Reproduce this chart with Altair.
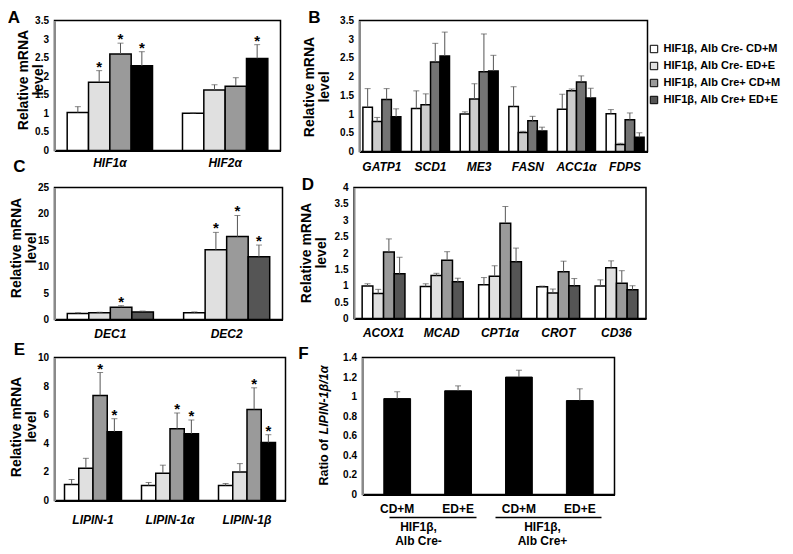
import altair as alt
import pandas as pd

FONT = "Liberation Sans"

series = ["HIF1β, Alb Cre- CD+M", "HIF1β, Alb Cre- ED+E",
          "HIF1β, Alb Cre+ CD+M", "HIF1β, Alb Cre+ ED+E"]

# Panel A
A_genes = ["HIF1α", "HIF2α"]
A_vals = [[1.02, 1.84, 2.60, 2.28], [1.00, 1.63, 1.73, 2.48]]
A_errs = [[0.16, 0.31, 0.29, 0.38], [0.01, 0.14, 0.23, 0.37]]
A_star = [[0, 1, 1, 1], [0, 0, 0, 1]]
A_ticks = [0, 0.5, 1, 1.5, 2, 2.5, 3, 3.5]

# Panel B
B_genes = ["GATP1", "SCD1", "ME3", "FASN", "ACC1α", "FDPS"]
B_vals = [[1.18, 0.80, 1.39, 0.93], [1.15, 1.25, 2.39, 2.55], [1.00, 1.40, 2.13, 2.15],
          [1.20, 0.51, 0.82, 0.55], [1.13, 1.62, 1.86, 1.43], [1.01, 0.19, 0.85, 0.38]]
B_errs = [[0.50, 0.11, 0.29, 0.21], [0.47, 0.29, 0.50, 0.64], [0.06, 0.41, 1.01, 0.42],
          [0.53, 0.03, 0.12, 0.10], [0.40, 0.05, 0.16, 0.26], [0.11, 0.03, 0.18, 0.12]]
B_star = [[0, 0, 0, 0]] * 6
B_ticks = [0, 0.5, 1, 1.5, 2, 2.5, 3, 3.5]

# Panel C
C_genes = ["DEC1", "DEC2"]
C_vals = [[1.13, 1.26, 2.32, 1.44], [1.26, 13.2, 15.7, 11.9]]
C_errs = [[0.15, 0.12, 0.30, 0.16], [0.18, 3.3, 4.0, 2.2]]
C_star = [[0, 0, 1, 0], [0, 1, 1, 1]]
C_ticks = [0, 5, 10, 15, 20, 25]

# Panel D
D_genes = ["ACOX1", "MCAD", "CPT1α", "CROT", "CD36"]
D_vals = [[0.99, 0.76, 2.03, 1.37], [0.98, 1.31, 1.78, 1.12], [1.03, 1.29, 2.91, 1.73],
          [0.97, 0.78, 1.43, 1.00], [0.99, 1.55, 1.08, 0.88]]
D_errs = [[0.07, 0.13, 0.40, 0.50], [0.08, 0.07, 0.26, 0.11], [0.22, 0.32, 0.51, 0.42],
          [0.02, 0.12, 0.32, 0.22], [0.19, 0.21, 0.38, 0.12]]
D_star = [[0, 0, 0, 0]] * 5
D_ticks = [0, 0.5, 1, 1.5, 2, 2.5, 3, 3.5, 4]

# Panel E
E_genes = ["LIPIN-1", "LIPIN-1α", "LIPIN-1β"]
E_vals = [[1.12, 2.26, 7.35, 4.81], [1.05, 1.91, 5.02, 4.67], [1.05, 2.00, 6.37, 4.05]]
E_errs = [[0.35, 0.69, 1.60, 0.91], [0.21, 0.56, 1.10, 0.96], [0.14, 0.58, 1.51, 0.55]]
E_star = [[0, 0, 1, 1], [0, 0, 1, 1], [0, 0, 1, 1]]
E_ticks = [0, 2, 4, 6, 8, 10]

# Panel F
F_labels = ["CD+M", "ED+E", "CD+M", "ED+E"]
F_vals = [0.98, 1.06, 1.20, 0.96]
F_errs = [0.07, 0.05, 0.07, 0.12]
F_groups = ["HIF1β,\nAlb Cre-", "HIF1β,\nAlb Cre+"]
F_ticks = [0, 0.2, 0.4, 0.6, 0.8, 1, 1.2, 1.4]

letters = ["A", "B", "C", "D", "E", "F"]

COL_A = ["#ffffff", "#e0e0e0", "#9a9a9a", "#000000"]
COL_B = ["#ffffff", "#cccccc", "#747474", "#000000"]
COL_C = ["#ffffff", "#e0e0e0", "#9a9a9a", "#555555"]
COL_LEGEND = ["#ffffff", "#e0e0e0", "#9a9a9a", "#555555"]

NUM_LABEL = "'' + datum.value"


def make_df(genes, vals, errs, stars, colors):
    rows = []
    for gi, g in enumerate(genes):
        for si, s in enumerate(series):
            rows.append(dict(gene=g, series=s, v=vals[gi][si],
                             top=vals[gi][si] + errs[gi][si],
                             star=stars[gi][si], col=colors[si]))
    return pd.DataFrame(rows)


def letter_mark(letter, lx, ly):
    return alt.Chart(pd.DataFrame({"t": [letter]})).mark_text(
        font=FONT, fontSize=17, fontWeight="bold", align="center", baseline="middle"
    ).encode(text="t:N", x=alt.value(lx), y=alt.value(ly))


def panel(genes, vals, errs, stars, colors, ticks, w, h, pin, pout,
          title_x, title_y, label_pad, extra=(), legend=None):
    df = make_df(genes, vals, errs, stars, colors)
    base = alt.Chart(df)
    xs = alt.X("gene:N", sort=genes,
               scale=alt.Scale(paddingInner=pin, paddingOuter=pout),
               axis=alt.Axis(title=None, labelAngle=0, labelFontStyle="italic",
                             labelFontSize=12, labelPadding=label_pad, ticks=False,
                             domainColor="black", domainWidth=2))
    xo = alt.XOffset("series:N", sort=series,
                     scale=alt.Scale(paddingInner=0, paddingOuter=0))
    yaxis = alt.Axis(values=ticks, labelExpr=NUM_LABEL, grid=False, ticks=False,
                     labelOverlap=False, labelFlush=False,
                     labelPadding=6, domainColor="#8a8a8a", domainWidth=2,
                     title=["Relative mRNA", "level"], titleX=title_x,
                     titleY=title_y, titleAngle=270, titleAlign="center",
                     titleBaseline="middle", titleLineHeight=15)
    yscale = alt.Scale(domain=[ticks[0], ticks[-1]], nice=False)

    def Y(field):
        return alt.Y(field, type="quantitative", scale=yscale, axis=yaxis)

    bars = base.mark_bar(stroke="black", strokeWidth=1.5).encode(
        x=xs, xOffset=xo, y=Y("v"), fill=alt.Fill("col:N", scale=None))
    err = base.mark_rule(color="#555555", strokeWidth=1).encode(
        x=xs, xOffset=xo, y=Y("v"), y2="top:Q")
    cap = base.mark_tick(color="#555555", thickness=1, size=6).encode(
        x=xs, xOffset=xo, y=Y("top"))
    star = base.transform_filter("datum.star == 1").mark_text(
        text="*", font=FONT, fontSize=15, fontWeight="bold", baseline="alphabetic", dy=1
    ).encode(x=xs, xOffset=xo, y=Y("top"))
    layers = [bars, err, cap, star]
    if legend is not None:
        layers.append(base.mark_square(size=0, opacity=0).encode(
            x=xs, xOffset=xo, y=Y("v"),
            fill=alt.Fill("series:N", sort=series,
                          scale=alt.Scale(domain=series, range=COL_LEGEND), legend=legend)))
    layers.extend(extra)
    return alt.layer(*layers).properties(width=w, height=h)


legend = alt.Legend(orient="none", legendX=594, legendY=23, title=None, symbolType="square",
                    symbolSize=55, symbolStrokeColor="black", symbolStrokeWidth=1,
                    symbolOpacity=1, labelFont=FONT, labelFontSize=11, labelFontWeight="bold",
                    labelColor="black", rowPadding=4, labelLimit=0, padding=0)

# invisible layout anchor fixing the top-left corner of the figure
anchor = alt.Chart(pd.DataFrame({"a": [0]})).mark_point(
    size=1, opacity=0, shape="square", filled=True
).encode(x=alt.value(-52), y=alt.value(-16))

pA = panel(A_genes, A_vals, A_errs, A_star, COL_A, A_ticks, 226, 130, 0.26, 0.11,
           -31, 59, 7, extra=[anchor, letter_mark(letters[0], -40.5, -2.5),
                              letter_mark(letters[2], -35, 146)])
pB = panel(B_genes, B_vals, B_errs, B_star, COL_B, B_ticks, 288, 131, 0.22, 0.07,
           -50, 66, 10, extra=[letter_mark(letters[1], -45, -2.5)], legend=legend)
pC = panel(C_genes, C_vals, C_errs, C_star, COL_C, C_ticks, 228, 132, 0.26, 0.11,
           -38, 60, 9)
pD = panel(D_genes, D_vals, D_errs, D_star, COL_C, D_ticks, 292, 131, 0.265, 0.14,
           -48, 65, 9, extra=[letter_mark(letters[3], -46, -3)])
pE = panel(E_genes, E_vals, E_errs, E_star, COL_A, E_ticks, 231, 143, 0.26, 0.13,
           -38, 69, 14, extra=[letter_mark(letters[4], -35, -8)])

# Panel F
dfF = pd.DataFrame({"idx": list(range(len(F_vals))), "v": F_vals,
                    "top": [a + b for a, b in zip(F_vals, F_errs)]})
label_expr = "[" + ",".join("'%s'" % s for s in F_labels) + "][datum.value]"
fx = alt.X("idx:O", scale=alt.Scale(paddingInner=0.56, paddingOuter=0.35),
           axis=alt.Axis(title=None, labelAngle=0, labelExpr=label_expr, labelFontSize=12,
                         labelPadding=9, ticks=False, domainColor="black", domainWidth=2))
fyaxis = alt.Axis(values=F_ticks, labelExpr=NUM_LABEL, grid=False, ticks=False, labelPadding=6,
                  labelOverlap=False, labelFlush=False,
                  domainColor="#8a8a8a", domainWidth=2, title=None)
fyscale = alt.Scale(domain=[0, 1.4], nice=False)


def FY(field):
    return alt.Y(field, type="quantitative", scale=fyscale, axis=fyaxis)


baseF = alt.Chart(dfF)
fbars = baseF.mark_bar(color="black", stroke="black", strokeWidth=1).encode(x=fx, y=FY("v"))
ferr = baseF.mark_rule(color="#555555", strokeWidth=1).encode(x=fx, y=FY("v"), y2="top:Q")
fcap = baseF.mark_tick(color="#555555", thickness=1, size=6).encode(x=fx, y=FY("top"))
groups = alt.Chart(pd.DataFrame({"g": F_groups, "px": [56, 180]})).mark_text(
    font=FONT, fontSize=12, fontWeight="bold", align="center", baseline="middle",
    lineBreak="\n", lineHeight=14
).encode(text="g:N", x=alt.X("px:Q", scale=None), y=alt.value(169))
uline1 = alt.Chart(pd.DataFrame({"a": [0]})).mark_rule(color="black", strokeWidth=1.5).encode(
    x=alt.value(27), x2=alt.value(114), y=alt.value(160))
uline2 = alt.Chart(pd.DataFrame({"a": [0]})).mark_rule(color="black", strokeWidth=1.5).encode(
    x=alt.value(133), x2=alt.value(239), y=alt.value(160))
ytitle1 = alt.Chart(pd.DataFrame({"t": ["Ratio of"]})).mark_text(
    font=FONT, fontSize=12.5, fontWeight="bold", angle=270, align="left", baseline="middle"
).encode(text="t:N", x=alt.value(-39), y=alt.value(128))
ytitle2 = alt.Chart(pd.DataFrame({"t": ["LIPIN-1β/1α"]})).mark_text(
    font=FONT, fontSize=12.5, fontWeight="bold", fontStyle="italic", angle=270, align="left",
    baseline="middle"
).encode(text="t:N", x=alt.value(-39), y=alt.value(77))
pF = alt.layer(fbars, ferr, fcap, groups, uline1, uline2, ytitle1, ytitle2,
               letter_mark(letters[5], -59, -4)).properties(width=252, height=137)

row1 = alt.hconcat(pA, pB, spacing=20).resolve_scale(xOffset="independent")
row2 = alt.hconcat(pC, pD, spacing=14.5).resolve_scale(xOffset="independent")
row3 = alt.hconcat(pE, pF, spacing=11).resolve_scale(xOffset="independent")
chart = alt.vconcat(row1, row2, row3, spacing=-1).resolve_scale(xOffset="independent").properties(
    padding={"left": -7.5, "top": -5.5, "right": 0, "bottom": 0}
).configure_view(stroke="black", strokeWidth=1.5).configure_axis(
    labelFont=FONT, titleFont=FONT, labelFontWeight="bold", titleFontWeight="bold",
    labelColor="black", titleColor="black", labelFontSize=10, titleFontSize=14
).configure_text(font=FONT)

chart.save("out.html", embed_options={"renderer": "svg", "actions": False})
